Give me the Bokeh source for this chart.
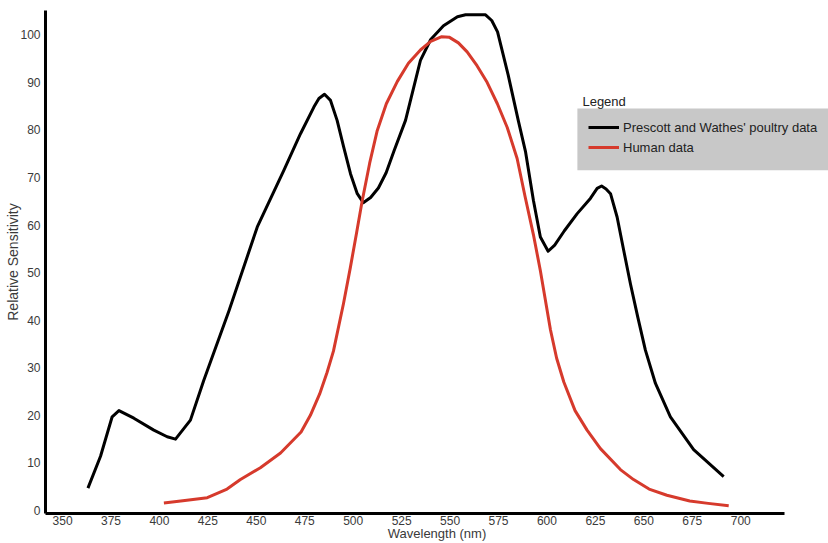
from bokeh.plotting import figure
from bokeh.models import Range1d, Legend, LegendItem, Label, FixedTicker, BoxAnnotation
from bokeh.embed import file_html
from bokeh.resources import INLINE

# Prescott and Wathes' poultry data (wavelength nm, relative sensitivity)
poultry_nm = [363.1, 369.6, 375.6, 379.1, 386.8, 397.1, 404.0, 408.3, 416.0, 422.9,
              435.9, 450.5, 464.2, 472.8, 479.7, 482.3, 485.2, 488.3, 491.7, 495.1,
              498.6, 502.1, 505.2, 509.0, 513.0, 517.0, 521.0, 527.0, 534.7, 540.0,
              546.6, 553.8, 558.0, 568.3, 571.5, 574.5, 580.0, 585.3, 588.9, 593.0,
              596.6, 600.6, 604.0, 609.0, 615.6, 622.4, 625.9, 628.2, 630.5, 632.8,
              636.2, 639.6, 643.1, 646.9, 650.8, 656.0, 663.7, 675.7, 691.2]
poultry_val = [4.7, 11.4, 19.7, 21.0, 19.4, 16.9, 15.5, 15.0, 19.0, 27.4,
               42.0, 59.6, 71.5, 79.2, 84.8, 86.6, 87.5, 86.2, 82.0, 76.4,
               70.8, 66.6, 64.7, 65.8, 67.8, 71.0, 75.5, 82.0, 94.6, 99.0,
               101.9, 103.8, 104.2, 104.2, 103.0, 100.6, 91.5, 81.8, 75.5, 65.2,
               57.5, 54.5, 55.8, 58.8, 62.4, 65.6, 67.7, 68.2, 67.6, 66.6,
               61.7, 54.7, 47.6, 40.6, 33.7, 26.7, 19.7, 12.8, 7.1]

# Human data
human_nm = [402.3, 411.0, 424.7, 434.9, 441.8, 452.1, 462.5, 473.1, 477.9, 482.7,
            486.5, 489.8, 495.0, 498.5, 501.8, 504.6, 508.5, 512.3, 517.1, 522.8,
            528.5, 534.7, 540.0, 545.7, 549.5, 554.3, 558.8, 563.9, 569.1, 574.4,
            579.5, 584.6, 588.7, 593.0, 596.6, 601.8, 605.0, 608.7, 614.5, 620.7,
            627.6, 637.9, 644.7, 652.7, 661.9, 673.7, 683.2, 693.8]
human_val = [1.6, 2.0, 2.7, 4.5, 6.5, 9.0, 12.1, 16.5, 20.0, 24.5,
             29.0, 33.5, 43.5, 51.0, 58.5, 65.0, 73.0, 79.7, 85.5, 90.2,
             94.0, 96.8, 98.6, 99.6, 99.5, 98.3, 96.4, 93.5, 90.0, 85.5,
             80.5, 74.0, 66.0, 58.0, 50.4, 38.0, 32.0, 27.0, 21.0, 16.9,
             13.0, 8.6, 6.5, 4.5, 3.2, 2.0, 1.5, 1.0]

x_ticks = [350, 375, 400, 425, 450, 475, 500, 525, 550, 575, 600, 625, 650, 675, 700]
y_ticks = [0, 10, 20, 30, 40, 50, 60, 70, 80, 90, 100]
series_labels = ["Prescott and Wathes' poultry data", "Human data"]

FONT = "Liberation Sans"

p = figure(width=828, height=543, output_backend="svg", toolbar_location=None,
           x_range=Range1d(341.2, 745.3), y_range=Range1d(-0.63, 105.1),
           min_border_left=45, min_border_right=0, min_border_top=10, min_border_bottom=29,
           x_axis_label="Wavelength (nm)", y_axis_label="Relative Sensitivity")
p.outline_line_color = None
p.grid.visible = False
p.background_fill_color = "white"
p.border_fill_color = "white"

p.xaxis.ticker = FixedTicker(ticks=x_ticks)
p.yaxis.ticker = FixedTicker(ticks=y_ticks)
p.xaxis.bounds = (341.2, 722.5)
for ax in (p.xaxis, p.yaxis):
    ax.axis_line_width = 3
    ax.axis_line_color = "black"
    ax.major_tick_line_color = None
    ax.minor_tick_line_color = None
    ax.major_tick_out = 0
    ax.major_tick_in = 0
    ax.major_label_text_font = FONT
    ax.major_label_text_font_size = "12px"
    ax.major_label_text_color = "#3a3a3a"
    ax.axis_label_text_font = FONT
    ax.axis_label_text_font_style = "normal"
    ax.axis_label_text_color = "#3a3a3a"
p.xaxis.axis_label_text_font_size = "13px"
p.yaxis.axis_label_text_font_size = "14px"
p.xaxis.major_label_standoff = 2
p.xaxis.axis_label_standoff = -2
p.yaxis.major_label_standoff = 5
p.yaxis.axis_label_standoff = -4

# legend background panel
p.add_layout(BoxAnnotation(left=615.7, right=745.3, bottom=71.5, top=84.5,
                           fill_color="#c8c8c8", fill_alpha=1.0, line_color=None))

r1 = p.line(poultry_nm, poultry_val, line_color="black", line_width=3, line_join="round")
r2 = p.line(human_nm, human_val, line_color="#d63a2c", line_width=3, line_join="round")

legend = Legend(items=[LegendItem(label=series_labels[0], renderers=[r1]),
                       LegendItem(label=series_labels[1], renderers=[r2])],
                location=(543, 356), orientation="vertical",
                background_fill_alpha=0.0, border_line_color=None,
                padding=0, spacing=0, margin=0,
                glyph_width=31, glyph_height=20, label_height=20,
                label_standoff=4,
                label_text_font=FONT, label_text_font_size="13px", label_text_color="#222222")
p.add_layout(legend, "center")

p.add_layout(Label(x=618.3, y=86.0, text="Legend", text_font=FONT, text_font_size="13px",
                   text_color="#222222", text_align="left", text_baseline="middle"))

open("out.html", "w").write(file_html(p, INLINE))
